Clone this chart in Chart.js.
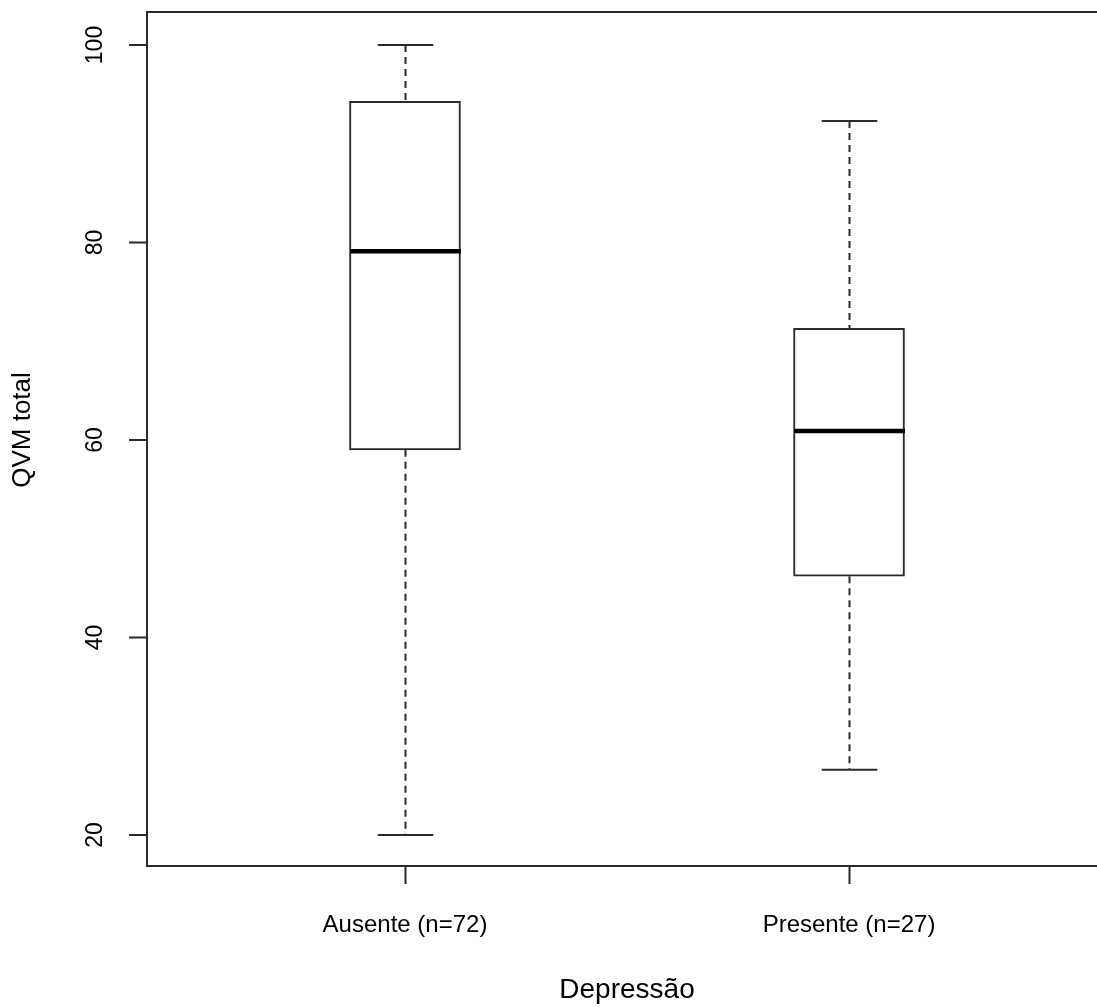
<!DOCTYPE html>
<html>
<head>
<meta charset="utf-8">
<script src="https://cdn.jsdelivr.net/npm/chart.js@4.4.0/dist/chart.umd.min.js"></script>
<style>
  html, body { margin: 0; padding: 0; background: #fff; overflow: hidden; }
  #grafico { position: absolute; left: 0; top: 0; }
</style>
</head>
<body>
<canvas id="grafico" width="1110" height="1007"></canvas>
<script>
// dados do boxplot
var categorias = ['Ausente (n=72)', 'Presente (n=27)'];
var bigodeInf = [20.0, 26.6];
var q1 = [59.0, 46.2];
var mediana = [79.1, 60.9];
var q3 = [94.3, 71.3];
var bigodeSup = [100.0, 92.3];
var ticksY = [20, 40, 60, 80, 100];

var tituloX = 'Depressão';
var tituloY = 'QVM total';
var fonte = '"Liberation Sans", Arial, sans-serif';
var corLinha = '#2a2a2a';

var caixas = categorias.map(function(c, i){
    return { x: i + 1, y: [q1[i], q3[i]] };
});

// desenha bigodes, medianas, moldura e eixos no estilo do R
var boxplotPlugin = {
    id: 'boxplotR',
    afterDatasetsDraw: function(chart){
        var ctx = chart.ctx;
        var sx = chart.scales.x;
        var sy = chart.scales.y;
        var meta = chart.getDatasetMeta(0);
        ctx.save();
        for (var i = 0; i < categorias.length; i++) {
            var cx = Math.round(sx.getPixelForValue(i + 1)) + 0.5;
            var larg = meta.data[i].width;
            // bigodes tracejados
            ctx.strokeStyle = corLinha;
            ctx.lineWidth = 2;
            ctx.setLineDash([7, 5]);
            ctx.beginPath();
            ctx.moveTo(cx, sy.getPixelForValue(bigodeSup[i]));
            ctx.lineTo(cx, sy.getPixelForValue(q3[i]));
            ctx.moveTo(cx, sy.getPixelForValue(q1[i]));
            ctx.lineTo(cx, sy.getPixelForValue(bigodeInf[i]));
            ctx.stroke();
            ctx.setLineDash([]);
            // barras dos extremos
            ctx.beginPath();
            var ys = sy.getPixelForValue(bigodeSup[i]);
            var yi = sy.getPixelForValue(bigodeInf[i]);
            ctx.moveTo(cx - larg / 4, ys);
            ctx.lineTo(cx + larg / 4, ys);
            ctx.moveTo(cx - larg / 4, yi);
            ctx.lineTo(cx + larg / 4, yi);
            ctx.stroke();
            // mediana
            ctx.strokeStyle = '#000';
            ctx.lineWidth = 4.5;
            ctx.beginPath();
            var ym = sy.getPixelForValue(mediana[i]);
            ctx.moveTo(cx - larg / 2, ym);
            ctx.lineTo(cx + larg / 2, ym);
            ctx.stroke();
        }
        ctx.restore();
    },
    afterDraw: function(chart){
        var ctx = chart.ctx;
        var a = chart.chartArea;
        var sx = chart.scales.x;
        var sy = chart.scales.y;
        ctx.save();
        ctx.strokeStyle = corLinha;
        ctx.lineWidth = 2;
        ctx.strokeRect(a.left, a.top, a.right - a.left, a.bottom - a.top);

        // eixo y
        ctx.beginPath();
        ticksY.forEach(function(v){
            var py = sy.getPixelForValue(v);
            ctx.moveTo(a.left - 18, py);
            ctx.lineTo(a.left, py);
        });
        // eixo x
        categorias.forEach(function(c, i){
            var px = Math.round(sx.getPixelForValue(i + 1)) + 0.5;
            ctx.moveTo(px, a.bottom);
            ctx.lineTo(px, a.bottom + 18);
        });
        ctx.stroke();

        ctx.fillStyle = '#000';
        ctx.font = '24px ' + fonte;
        ctx.textAlign = 'center';
        ctx.textBaseline = 'middle';
        categorias.forEach(function(c, i){
            ctx.fillText(c, sx.getPixelForValue(i + 1), 925);
        });
        ctx.font = '23px ' + fonte;
        ticksY.forEach(function(v){
            ctx.save();
            ctx.translate(96, sy.getPixelForValue(v));
            ctx.rotate(-Math.PI / 2);
            ctx.fillText(String(v), 0, 0);
            ctx.restore();
        });

        ctx.font = '28px ' + fonte;
        ctx.fillText(tituloX, 627, 990);
        ctx.font = '26px ' + fonte;
        ctx.save();
        ctx.translate(23, 430);
        ctx.rotate(-Math.PI / 2);
        ctx.fillText(tituloY, 0, 0);
        ctx.restore();
        ctx.restore();
    }
};

window.onload = function(){
    var contexto = document.getElementById('grafico').getContext('2d');
    var grafico = new Chart(contexto, {
        type: 'bar',
        data: {
            datasets: [{
                label: 'QVM',
                data: caixas,
                backgroundColor: '#ffffff',
                borderColor: corLinha,
                borderWidth: 2,
                borderSkipped: false,
                barThickness: 111
            }]
        },
        options: {
            responsive: false,
            animation: false,
            layout: { padding: { left: 147, top: 12, right: 3, bottom: 141 } },
            plugins: {
                legend: { display: false },
                tooltip: { enabled: false }
            },
            scales: {
                x: { type: 'linear', offset: false, min: 0.419, max: 2.581, display: false },
                y: { type: 'linear', min: 16.86, max: 103.34, display: false }
            }
        },
        plugins: [boxplotPlugin]
    });
};
</script>
</body>
</html>
